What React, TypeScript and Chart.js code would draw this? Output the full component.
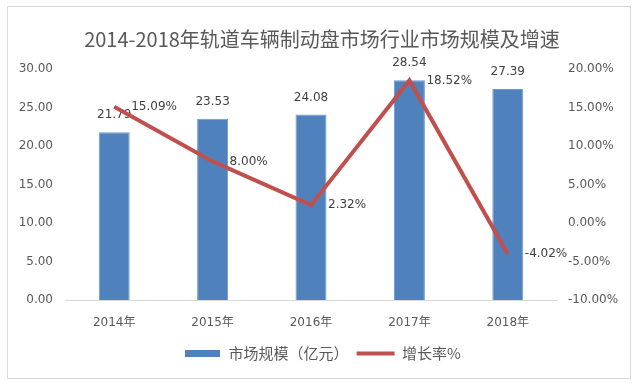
import React, { useEffect, useRef } from "react";
import { Chart, registerables } from "chart.js";

Chart.register(...registerables);

const categories = ["2014年", "2015年", "2016年", "2017年", "2018年"];
const marketSize = [21.79, 23.53, 24.08, 28.54, 27.39];
const growthRate = [15.09, 8.0, 2.32, 18.52, -4.02];
const leftTicks = { min: 0, max: 30, step: 5 };
const rightTicks = { min: -10, max: 20, step: 5 };
const titleText = "2014-2018年轨道车辆制动盘市场行业市场规模及增速";
const barLabel = "市场规模（亿元）";
const lineLabel = "增长率%";

const BAR = "#4F81BD";
const RED = "#C0504D";
const AXIS_TEXT = "#595959";
const LABEL_TEXT = "#404040";
const TICK_FONT = "'DejaVu Sans', 'Noto Sans CJK SC', sans-serif";
const CJK_FONT = "'Noto Sans CJK SC', sans-serif";

export default function App() {
  const ref = useRef<HTMLCanvasElement | null>(null);

  useEffect(() => {
    const canvas = ref.current;
    if (!canvas) return;

    const barImg = document.createElement("canvas");
    barImg.width = 35;
    barImg.height = 7;
    const bctx = barImg.getContext("2d");
    if (bctx) {
      bctx.fillStyle = BAR;
      bctx.fillRect(0, 0, 35, 7);
    }

    const labelPlugin = {
      id: "valueLabels",
      afterDatasetDraw(chart: any, args: any) {
        if (args.index !== 0) return;
        const ctx = chart.ctx;
        const meta = chart.getDatasetMeta(0);
        ctx.save();
        ctx.font = `12px ${TICK_FONT}`;
        ctx.fillStyle = LABEL_TEXT;
        ctx.textAlign = "center";
        ctx.textBaseline = "alphabetic";
        meta.data.forEach((el: any, i: number) => {
          ctx.fillText(marketSize[i].toFixed(2), el.x, el.y - 14);
        });
        ctx.restore();
      },
      afterDatasetsDraw(chart: any) {
        const ctx = chart.ctx;
        const meta = chart.getDatasetMeta(1);
        ctx.save();
        ctx.font = `12px ${TICK_FONT}`;
        ctx.fillStyle = LABEL_TEXT;
        ctx.textAlign = "left";
        ctx.textBaseline = "middle";
        meta.data.forEach((el: any, i: number) => {
          ctx.fillText(growthRate[i].toFixed(2) + "%", el.x + 17, el.y);
        });
        ctx.restore();
      },
    };

    const chart = new Chart(canvas, {
      type: "bar",
      data: {
        labels: categories,
        datasets: [
          {
            type: "bar",
            label: barLabel,
            data: marketSize,
            backgroundColor: BAR,
            borderColor: "#6F9AD0",
            borderWidth: 1,
            barPercentage: 0.9,
            categoryPercentage: 0.35,
            yAxisID: "y",
            order: 1,
          },
          {
            type: "line",
            label: lineLabel,
            data: growthRate,
            borderColor: RED,
            backgroundColor: RED,
            borderWidth: 4,
            pointRadius: 0,
            tension: 0,
            yAxisID: "y1",
            order: 0,
          },
        ] as any,
      },
      options: {
        responsive: false,
        animation: false,
        devicePixelRatio: 1,
        layout: { padding: { left: 0, right: 0, top: 0, bottom: 17 } },
        plugins: {
          tooltip: { enabled: false },
          title: {
            display: true,
            text: titleText,
            color: AXIS_TEXT,
            font: { family: CJK_FONT, size: 20, weight: "normal" as any },
            padding: { top: 27.5, bottom: 17.5 },
          },
          legend: {
            display: true,
            position: "bottom",
            labels: {
              usePointStyle: true,
              pointStyleWidth: 38,
              boxHeight: 15,
              padding: 8,
              color: AXIS_TEXT,
              font: { family: CJK_FONT, size: 15 },
              generateLabels: () => [
                {
                  text: barLabel,
                  pointStyle: barImg as any,
                  fillStyle: BAR,
                  strokeStyle: BAR,
                  lineWidth: 0,
                  hidden: false,
                  datasetIndex: 0,
                  fontColor: AXIS_TEXT,
                },
                {
                  text: lineLabel,
                  pointStyle: "line",
                  fillStyle: RED,
                  strokeStyle: RED,
                  lineWidth: 4,
                  hidden: false,
                  datasetIndex: 1,
                  fontColor: AXIS_TEXT,
                },
              ],
            },
          },
        },
        scales: {
          x: {
            offset: true,
            grid: { display: false },
            border: { display: true, color: "#D9D9D9", width: 1 },
            ticks: {
              color: AXIS_TEXT,
              font: { family: TICK_FONT, size: 12 },
              padding: 8,
              maxRotation: 0,
            },
            afterFit: (s: any) => {
              s.height = 38;
            },
          },
          y: {
            position: "left",
            min: leftTicks.min,
            max: leftTicks.max,
            grid: { display: false, drawTicks: false },
            border: { display: false },
            ticks: {
              stepSize: leftTicks.step,
              color: AXIS_TEXT,
              font: { family: TICK_FONT, size: 12 },
              padding: 12,
              callback: (v: any) => Number(v).toFixed(2),
            },
            afterFit: (s: any) => {
              s.width = 65;
            },
          },
          y1: {
            position: "right",
            min: rightTicks.min,
            max: rightTicks.max,
            grid: { display: false, drawTicks: false },
            border: { display: false },
            ticks: {
              stepSize: rightTicks.step,
              color: AXIS_TEXT,
              font: { family: TICK_FONT, size: 12 },
              padding: 11,
              callback: (v: any) => Number(v).toFixed(2) + "%",
            },
            afterFit: (s: any) => {
              s.width = 87;
            },
          },
        },
      } as any,
      plugins: [labelPlugin],
    });

    return () => chart.destroy();
  }, []);

  return (
    <div style={{ position: "absolute", left: 0, top: 0, width: 644, height: 388, background: "#fff" }}>
      <div
        style={{
          position: "absolute",
          left: 7,
          top: 6,
          width: 624,
          height: 373,
          border: "1px solid #D9D9D9",
          boxSizing: "border-box",
        }}
      />
      <canvas ref={ref} width={644} height={388} style={{ position: "absolute", left: 0, top: 0, width: 644, height: 388 }} />
    </div>
  );
}
